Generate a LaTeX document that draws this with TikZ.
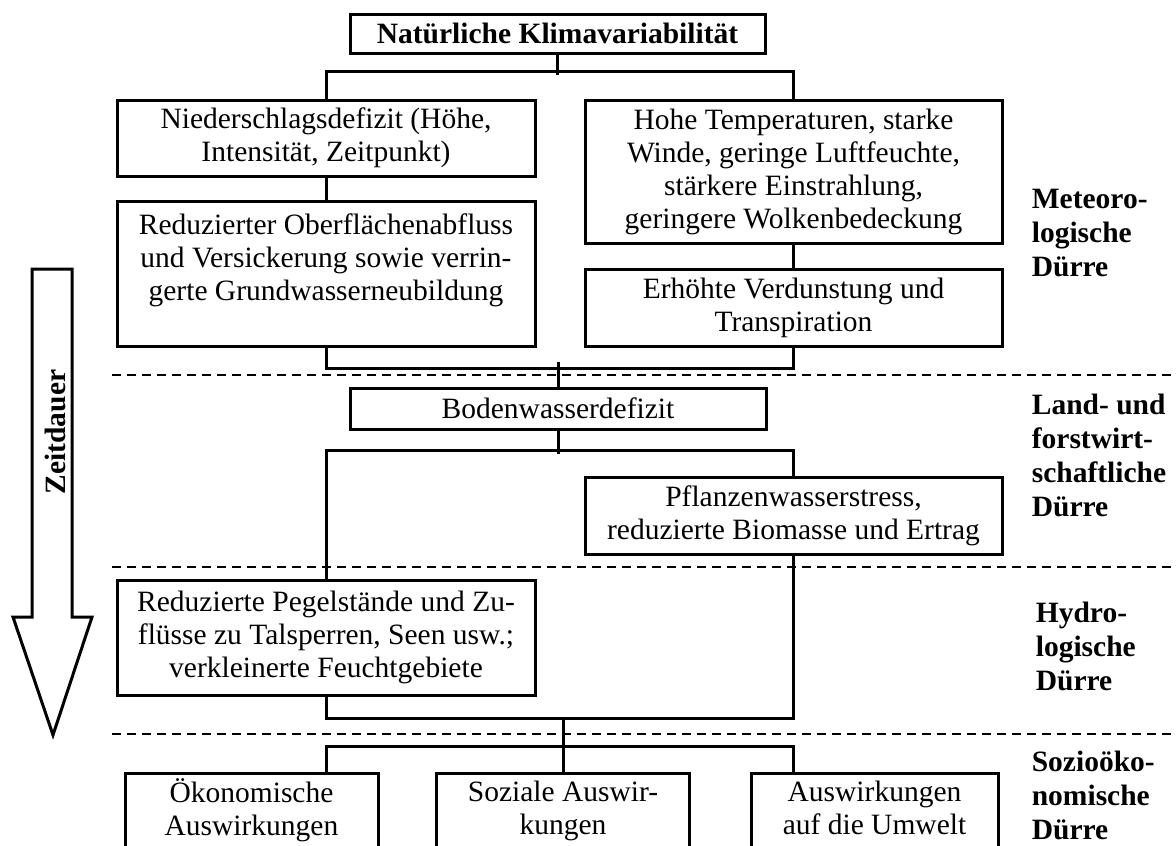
\documentclass[tikz,border=0pt]{standalone}
\usepackage{fontspec}
\setmainfont{Liberation Serif}
\usepackage{tikz}
\usetikzlibrary{positioning}

\begin{document}
\begin{tikzpicture}[x=1pt, y=-1pt, line width=3pt,
  box/.style = {draw, align=center, inner sep=0pt, font=\fontsize{29.5}{33}\selectfont},
  left col/.style = {box, minimum width=418pt},
  right col/.style = {box, minimum width=417pt},
  low/.style = {box, minimum height=76pt, anchor=north},
  zone/.style = {align=left, anchor=west, font=\fontsize{29.5}{34}\selectfont\bfseries},
  sep/.style = {dashed, line width=2.2pt, dash pattern=on 9pt off 6pt}]
  \useasboundingbox (0,0) rectangle (1176,846);
  \clip (0,0) rectangle (1176,846);
  % meteorologische Ebene
  \node[box, minimum width=415pt, minimum height=39pt, font=\fontsize{29.5}{33}\selectfont\bfseries] (klima) at (557.5,33.5) {Natürliche Klimavariabilität};
  \node[left col, minimum height=76pt] (nieder) at (326,138) {Niederschlagsdefizit (Höhe,\\ Intensität, Zeitpunkt)};
  \node[left col, minimum height=145pt, below=22pt of nieder] (abfluss) {Reduzierter Oberflächenabfluss\\ und Versickerung sowie verrin-\\ gerte Grundwasserneubildung\\ \mbox{}};
  \node[right col, minimum height=143pt] (hitze) at (793.5,171.5) {Hohe Temperaturen, starke\\ Winde, geringe Luftfeuchte,\\ stärkere Einstrahlung,\\ geringere Wolkenbedeckung};
  \node[right col, minimum height=77pt, below=23pt of hitze] (verdunst) {Erhöhte Verdunstung und\\ Transpiration};
  % landwirtschaftliche Ebene
  \node[box, minimum width=416pt, minimum height=41pt] (boden) at (558,408.5) {Bodenwasserdefizit};
  \node[right col, minimum height=77pt] (pflanzen) at (793.5,515.5) {Pflanzenwasserstress,\\ reduzierte Biomasse und Ertrag};
  % hydrologische Ebene
  \node[left col, minimum height=115pt] (pegel) at (326,637.5) {Reduzierte Pegelstände und Zu-\\ flüsse zu Talsperren, Seen usw.;\\ verkleinerte Feuchtgebiete};
  % soziooekonomische Ebene (unten abgeschnitten)
  \node[low, minimum width=253pt] (oeko) at (251.5,772) {\strut Ökonomische\\ Auswirkungen\strut};
  \node[low, minimum width=253pt] (sozial) at (563,772) {\strut Soziale Auswir-\\ kungen\strut};
  \node[low, minimum width=247pt] (umwelt) at (874.5,772) {\strut Auswirkungen\\ auf die Umwelt\strut};

  \draw (klima.south) -- ++(0,20);
  \draw (nieder.north) -- ++(0,-27) -| (hitze.north);
  \draw (nieder) -- (abfluss);
  \draw (hitze) -- (verdunst);
  \draw (abfluss.south) -- ++(0,21) -| (verdunst.south);
  \draw (boden.north) -- ++(0,-25);
  \draw (boden.south) -- ++(0,23);
  \draw (pegel.north) -- ++(0,-128) -| (pflanzen.north);
  \draw (pegel.south) -- ++(0,22) -| (pflanzen.south);
  \draw (sozial.north) -- ++(0,-55);
  \draw (oeko.north -| pegel.south) -- ++(0,-26) -| (umwelt.north -| pflanzen.south);

  \foreach \y in {375,567,734}
    \draw[sep] (112,\y) -- (1176,\y);

  \node[zone] (meteo) at (1027,233) {Meteoro-\\logische\\Dürre};
  \node[zone] (land) at (1027,455) {Land- und\\forstwirt-\\schaftliche\\Dürre};
  \node[zone] (hydro) at (1031,646) {Hydro-\\logische\\Dürre};
  \node[zone] (sozio) at (1027,795) {Sozioöko-\\nomische\\Dürre};

  % Zeitpfeil
  \draw (32,269) -- (72,269) -- (72,617) -- (92,617) -- (53,735) -- (13,617) -- (32,617) -- cycle;
  \node[rotate=90, font=\fontsize{29.5}{33}\selectfont\bfseries] (zeit) at (55,432) {Zeitdauer};
\end{tikzpicture}
\end{document}
